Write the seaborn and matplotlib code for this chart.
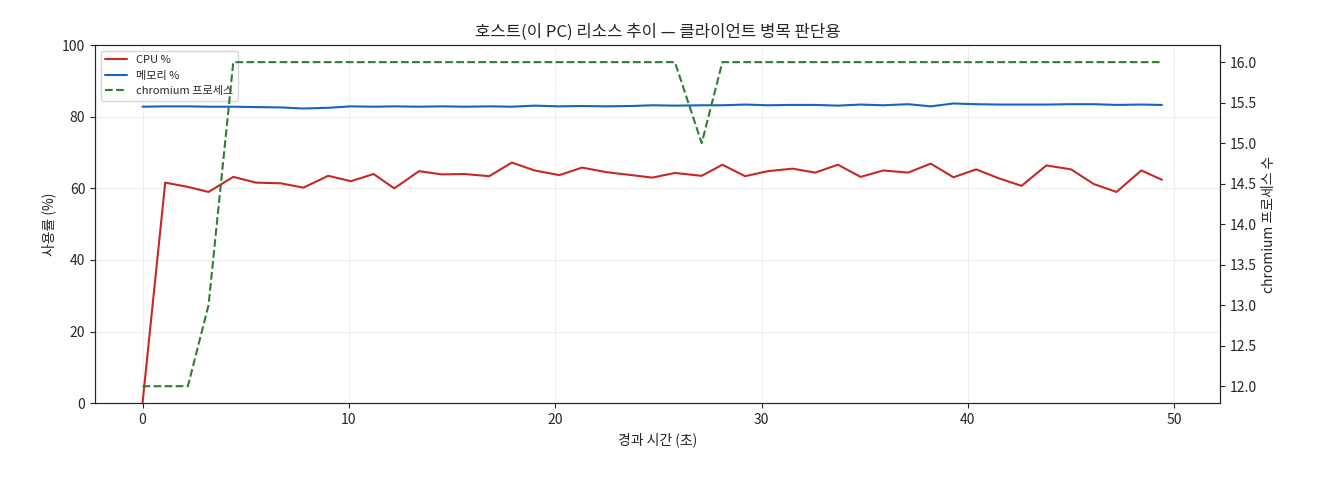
import numpy as np
import pandas as pd
import matplotlib
matplotlib.use("Agg")
import matplotlib.pyplot as plt
import seaborn as sns

t = [0, 1.1, 2.2, 3.2, 4.4, 5.5, 6.7, 7.8, 9.0, 10.1, 11.2, 12.2, 13.4, 14.5, 15.6,
     16.8, 17.9, 19.0, 20.2, 21.3, 22.5, 23.7, 24.7, 25.8, 27.1, 28.1, 29.2, 30.3,
     31.5, 32.6, 33.7, 34.8, 35.9, 37.1, 38.2, 39.3, 40.4, 41.5, 42.6, 43.8, 45.0,
     46.1, 47.2, 48.4, 49.4]
cpu = [0, 61.6, 60.4, 59.0, 63.2, 61.6, 61.4, 60.2, 63.5, 62.0, 64.0, 60.0, 64.8,
       63.9, 64.0, 63.4, 67.2, 65.0, 63.7, 65.8, 64.5, 63.7, 63.0, 64.3, 63.5, 66.6,
       63.4, 64.8, 65.5, 64.4, 66.6, 63.2, 65.0, 64.4, 66.9, 63.1, 65.3, 62.8, 60.7,
       66.4, 65.3, 61.2, 59.0, 65.0, 62.4]
mem = [82.8, 82.9, 82.9, 82.8, 82.8, 82.7, 82.6, 82.3, 82.5, 82.9, 82.8, 82.9, 82.8,
       82.9, 82.8, 82.9, 82.8, 83.1, 82.9, 83.0, 82.9, 83.0, 83.2, 83.1, 83.2, 83.2,
       83.4, 83.2, 83.3, 83.3, 83.1, 83.4, 83.2, 83.5, 82.9, 83.7, 83.5, 83.4, 83.4,
       83.4, 83.5, 83.5, 83.3, 83.4, 83.3]
procs = [12, 12, 12, 13, 16, 16, 16, 16, 16, 16, 16, 16, 16, 16, 16, 16, 16, 16, 16,
         16, 16, 16, 16, 16, 15, 16, 16, 16, 16, 16, 16, 16, 16, 16, 16, 16, 16, 16,
         16, 16, 16, 16, 16, 16, 16]

df = pd.DataFrame({"t": t, "cpu": cpu, "mem": mem, "procs": procs})

sns.set_style("ticks")
plt.rcParams['font.family'] = ['Noto Sans CJK KR', 'DejaVu Sans']
plt.rcParams['axes.unicode_minus'] = False

fig, ax = plt.subplots(figsize=(13.2, 4.8), dpi=100)
sns.lineplot(data=df, x="t", y="cpu", ax=ax, color="#c62828", lw=1.5, label="CPU %")
sns.lineplot(data=df, x="t", y="mem", ax=ax, color="#1565c0", lw=1.5, label="메모리 %")
ax2 = ax.twinx()
sns.lineplot(data=df, x="t", y="procs", ax=ax2, color="#2e7d32", lw=1.5, ls="--",
             label="chromium 프로세스")
ax.set_ylim(0, 100)
ax2.set_ylim(11.79, 16.21)
ax.set_xlim(-2.3, 52.2)
ax.grid(True, alpha=0.3)
ax.set_xlabel("경과 시간 (초)", fontsize=10)
ax.set_ylabel("사용률 (%)", fontsize=10)
ax2.set_ylabel("chromium 프로세스 수", fontsize=10)
ax.set_title("호스트(이 PC) 리소스 추이 — 클라이언트 병목 판단용", fontsize=12)
ax.tick_params(labelsize=10)
ax2.tick_params(labelsize=10)
h1, l1 = ax.get_legend_handles_labels()
h2, l2 = ax2.get_legend_handles_labels()
ax2.get_legend().remove()
ax.legend(h1 + h2, l1 + l2, loc="upper left", fontsize=8)
fig.subplots_adjust(left=0.072, right=0.924, top=0.906, bottom=0.16)
fig.savefig("out.png", dpi=100)
